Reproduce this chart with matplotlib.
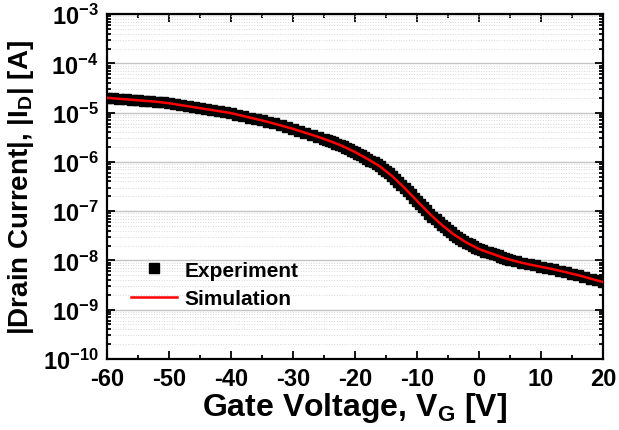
import numpy as np
import matplotlib
matplotlib.use('Agg')
from matplotlib import pyplot as plt
from matplotlib.ticker import LogLocator, NullFormatter, MultipleLocator

# gate voltage sweep [V]: 1 V steps, finer 0.5 V steps through the subthreshold region
gate_voltage = list(range(-60, -25)) + [v * 0.5 for v in range(-50, 11)] + list(range(6, 21))
exp_log_current = [
    # -60 .. -26
    -4.70, -4.71, -4.72, -4.73, -4.74, -4.75, -4.76, -4.77, -4.78, -4.79,
    -4.81, -4.83, -4.85, -4.87, -4.89, -4.91, -4.93, -4.95, -4.97, -4.99,
    -5.01, -5.04, -5.07, -5.10, -5.13, -5.16, -5.19, -5.22, -5.26, -5.29,
    -5.33, -5.37, -5.41, -5.45, -5.49,
    # -25 .. 5 (0.5 V)
    -5.53, -5.555, -5.58, -5.605, -5.63, -5.655, -5.68, -5.71, -5.74, -5.77,
    -5.80, -5.835, -5.87, -5.905, -5.94, -5.975, -6.01, -6.05, -6.09, -6.135,
    -6.18, -6.235, -6.29, -6.35, -6.41, -6.47, -6.53, -6.595, -6.66, -6.725,
    -6.79, -6.855, -6.92, -6.985, -7.05, -7.11, -7.17, -7.225, -7.28, -7.33,
    -7.38, -7.43, -7.48, -7.525, -7.57, -7.605, -7.64, -7.675, -7.71, -7.74,
    -7.77, -7.795, -7.82, -7.84, -7.86, -7.88, -7.90, -7.925, -7.95, -7.97,
    -7.99,
    # 6 .. 20
    -8.02, -8.05, -8.08, -8.10, -8.13, -8.16, -8.18, -8.21, -8.24, -8.27,
    -8.30, -8.33, -8.37, -8.40, -8.44,
]

# simulated curve
sim_voltage = list(range(-60, 21, 2))
sim_log_current = [
    -4.70, -4.72, -4.74, -4.76, -4.78, -4.81, -4.85, -4.89, -4.93, -4.97,
    -5.01, -5.07, -5.13, -5.19, -5.26, -5.33, -5.41, -5.49, -5.58, -5.68,
    -5.80, -5.94, -6.09, -6.29, -6.53, -6.79, -7.05, -7.28, -7.48, -7.64,
    -7.77, -7.86, -7.95, -8.02, -8.08, -8.13, -8.18, -8.24, -8.30, -8.37,
    -8.44,
]

x_ticks = [-60, -50, -40, -30, -20, -10, 0, 10, 20]
x_tick_labels = ['-60', '-50', '-40', '-30', '-20', '-10', '0', '10', '20']
y_exponents = [-10, -9, -8, -7, -6, -5, -4, -3]
y_tick_labels = [r'10$^{%d}$' % e for e in y_exponents]

plt.rcParams['font.family'] = ['Liberation Sans', 'DejaVu Sans']
plt.rcParams['font.weight'] = 'bold'
plt.rcParams['axes.unicode_minus'] = False
plt.rcParams['mathtext.fontset'] = 'custom'
plt.rcParams['mathtext.rm'] = 'Liberation Sans:bold'
plt.rcParams['mathtext.default'] = 'rm'

fig = plt.figure(figsize=(6.19, 4.31), dpi=100)
ax = fig.add_axes([0.173, 0.165, 0.801, 0.800])

exp_current = 10 ** np.array(exp_log_current)
sim_current = 10 ** np.array(sim_log_current)

ax.plot(gate_voltage, exp_current, 's', color='black', markersize=6.5,
        label='Experiment', zorder=3)
ax.plot(sim_voltage, sim_current, '-', color='red', lw=1.8,
        label='Simulation', zorder=4)

ax.set_yscale('log')
ax.set_xlim(-60, 20)
ax.set_ylim(1e-10, 1e-3)

ax.set_xticks(x_ticks)
ax.set_xticklabels(x_tick_labels)
ax.xaxis.set_minor_locator(MultipleLocator(5))
ax.set_yticks([10.0 ** e for e in y_exponents])
ax.set_yticklabels(y_tick_labels)
ax.yaxis.set_minor_locator(LogLocator(base=10, subs=np.arange(2, 10), numticks=20))
ax.yaxis.set_minor_formatter(NullFormatter())

ax.grid(axis='y', which='major', color='#c4c4c4', lw=1.0)
ax.grid(axis='y', which='minor', color='#d8d8d8', lw=0.7, linestyle=':')
ax.set_axisbelow(True)

ax.tick_params(which='both', direction='in', top=True, right=True,
               labelsize=17, width=1.3, pad=6)
ax.tick_params(which='major', length=6)
ax.tick_params(which='minor', length=3)
for s in ax.spines.values():
    s.set_linewidth(1.6)

ax.set_xlabel('Gate Voltage, V$_{G}$ [V]', fontsize=23, fontweight='bold', labelpad=0)
ax.set_ylabel('|Drain Current|, |I$_{D}$| [A]', fontsize=20, fontweight='bold', labelpad=5)

ax.legend(loc='lower left', bbox_to_anchor=(0.019, 0.105), frameon=False,
          fontsize=15, handlelength=2.2, handletextpad=0.35, labelspacing=0.45,
          borderpad=0.2)

fig.savefig('out.png', dpi=100)
